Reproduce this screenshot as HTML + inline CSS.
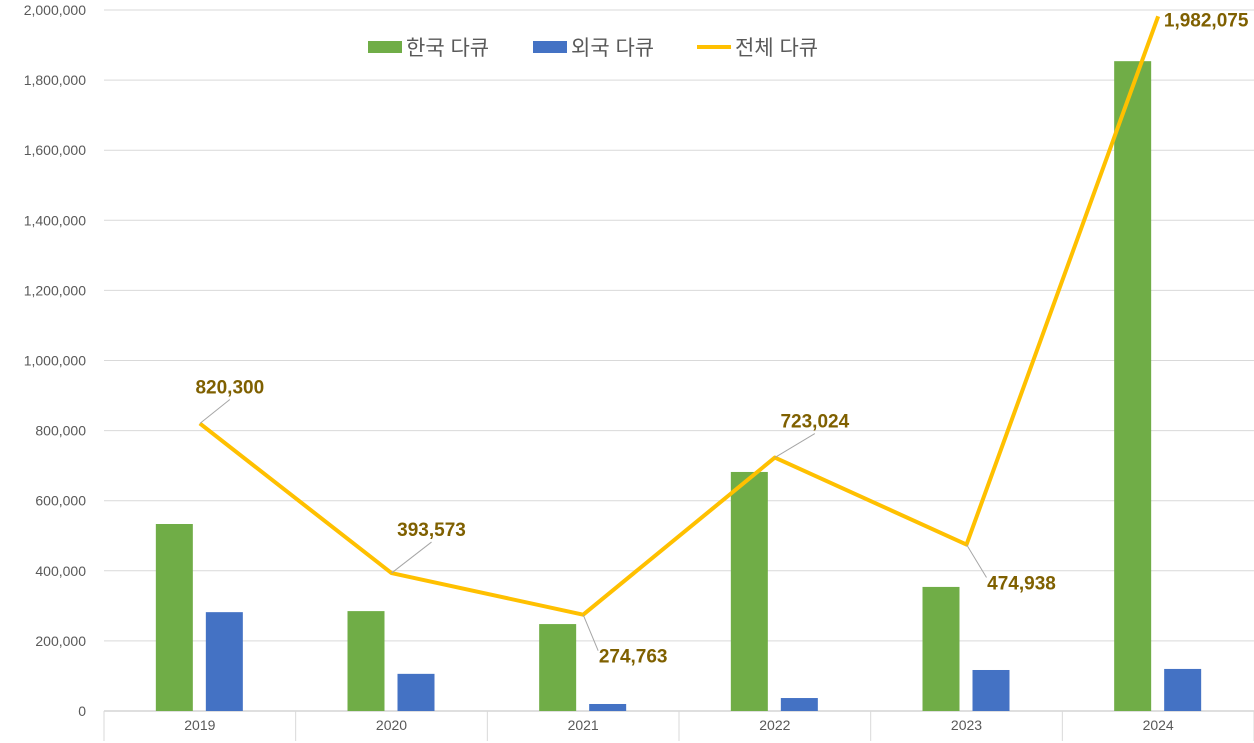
<!DOCTYPE html>
<html><head><meta charset="utf-8"><style>
body{margin:0;background:#fff;}
svg{display:block;font-family:"Liberation Sans","Noto Sans CJK KR",sans-serif;}
</style></head><body>
<svg id="chart" width="1254" height="743"></svg>
<script>
const categories=["2019","2020","2021","2022","2023","2024"];
const koreanValues=[533500,285000,248000,682000,354000,1854000];
const foreignValues=[282000,106000,20000,37000,117000,120000];
const totalValues=[820300,393573,274763,723024,474938,1982075];
const totalLabels=["820,300","393,573","274,763","723,024","474,938","1,982,075"];
const yTicks=[0,200000,400000,600000,800000,1000000,1200000,1400000,1600000,1800000,2000000];
const yTickLabels=["0","200,000","400,000","600,000","800,000","1,000,000","1,200,000","1,400,000","1,600,000","1,800,000","2,000,000"];

const svg=document.getElementById('chart');
const NS="http://www.w3.org/2000/svg";
const x0=104,x1=1254,yBase=711,yTop=10,yMax=2000000;
const band=(x1-x0)/categories.length;
const xC=i=>x0+band*(i+0.5);
const y=v=>yBase-(v/yMax)*(yBase-yTop);
function mk(tag,attrs,parent){const e=document.createElementNS(NS,tag);for(const k in attrs)e.setAttribute(k,attrs[k]);(parent||svg).appendChild(e);return e;}

yTicks.forEach((t,i)=>{
  const g=mk('line',{x1:x0,x2:x1,y1:y(t),y2:y(t),stroke:i===0?'#bfbfbf':'#d9d9d9','stroke-width':1});
  
  
  const tx=mk('text',{x:86,y:y(t)+5,'text-anchor':'end','font-size':14,fill:'#595959'});
  tx.textContent=yTickLabels[i];
  
  
});
for(let i=0;i<=categories.length;i++){
  const tk=mk('line',{x1:x0+band*i,x2:x0+band*i,y1:yBase,y2:yBase+30,stroke:'#d9d9d9'});
  
  
}
categories.forEach((c,i)=>{
  const tx=mk('text',{x:xC(i),y:730,'text-anchor':'middle','font-size':14,fill:'#595959'});
  tx.textContent=c;
  
  
  const b1=mk('rect',{x:xC(i)-44,y:y(koreanValues[i]),width:37,height:yBase-y(koreanValues[i]),fill:'#70ad47'});
  
  
  const b2=mk('rect',{x:xC(i)+6,y:y(foreignValues[i]),width:37,height:yBase-y(foreignValues[i]),fill:'#4472c4'});
  
  
});
const pts=totalValues.map((v,i)=>xC(i)+','+y(v)).join(' ');
const line=mk('polyline',{points:pts,fill:'none',stroke:'#ffc000','stroke-width':4,'stroke-linejoin':'round'});


const off=[[30,-30],[40,-37],[50,48],[40,-30],[55,45],[48,10]];
totalValues.forEach((v,i)=>{
  const px=xC(i),py=y(v);
  const lx=px+off[i][0],ly=py+off[i][1];
  if(i<5){const l=mk('line',{x1:px,y1:py,x2:lx-(i===2||i===4?35:0),y2:ly-(off[i][1]>0?12:-6),stroke:'#a6a6a6'});
  
  }
  const t=mk('text',{x:lx,y:ly,'text-anchor':'middle','font-size':19,'font-weight':'bold',fill:'#7f6000'});
  t.textContent=totalLabels[i];
  
  
});
const legend=[["#70ad47","한국 다큐",368,'rect'],["#4472c4","외국 다큐",533,'rect'],["#ffc000","전체 다큐",697,'line']];
legend.forEach(([col,txt,lx,kind])=>{
  const g=mk('g',{});
  
  
  if(kind==='rect')mk('rect',{x:lx,y:41,width:34,height:12,fill:col},g);
  else mk('line',{x1:lx,x2:lx+34,y1:47,y2:47,stroke:col,'stroke-width':4},g);
  const t=mk('text',{x:lx+38,y:55,'font-size':21,fill:'#595959'},g);
  t.textContent=txt;
});
</script>
</body></html>
